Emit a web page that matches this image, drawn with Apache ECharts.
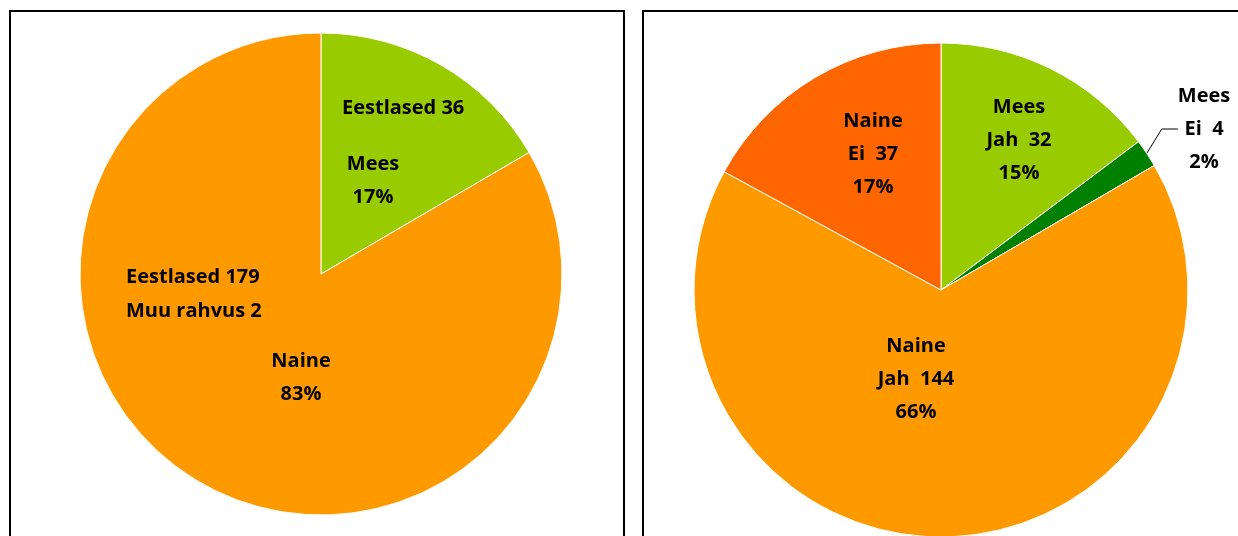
<!DOCTYPE html>
<html>
<head>
<meta charset="utf-8">
<script src="https://cdn.jsdelivr.net/npm/echarts@6/dist/echarts.min.js"></script>
<style>
html,body{margin:0;padding:0;background:#fff;}
#chart{width:1238px;height:536px;}
</style>
</head>
<body>
<div id="chart"></div>
<script>
// ---- data ----
const leftCategories = ['Mees', 'Naine'];
const leftEstonians = [36, 179];
const leftOther = [0, 2];
const leftValues = leftEstonians.map((v, i) => v + leftOther[i]);

const rightGender = ['Mees', 'Mees', 'Naine', 'Naine'];
const rightAnswer = ['Jah', 'Ei', 'Jah', 'Ei'];
const rightValues = [32, 4, 144, 37];

// ---- styles / layout ----
const leftColors = ['#99CC00', '#FF9900'];
const rightColors = ['#99CC00', '#008000', '#FF9900', '#FF6600'];
const leftLabelPos = [[373, 181], [301, 378]];
const rightLabelPos = [[1019, 140], [1204, 129], [916, 379], [873, 154]];
const FONT = '"Open Sans"';
const FS = 20;

const pct = (v, arr) => Math.round(v / arr.reduce((a, b) => a + b, 0) * 100) + '%';

const leftData = leftCategories.map((c, i) => ({
  name: c, value: leftValues[i], itemStyle: { color: leftColors[i] }
}));
const rightData = rightGender.map((g, i) => ({
  name: g + ' ' + rightAnswer[i], value: rightValues[i], itemStyle: { color: rightColors[i] },
  labelLine: { show: i === 1, length: 10, length2: 16, lineStyle: { color: '#000', width: 1 } }
}));

const labelStyle = { color: '#000', fontFamily: FONT, fontWeight: 'bold', fontSize: FS, lineHeight: 33, align: 'center', overflow: 'none' };

const chart = echarts.init(document.getElementById('chart'), null, { renderer: 'canvas' });
chart.setOption({
  animation: false,
  graphic: [
    { type: 'rect', shape: { x: 10, y: 11, width: 614, height: 540 }, style: { fill: 'none', stroke: '#000', lineWidth: 2 }, z: 0 },
    { type: 'rect', shape: { x: 643, y: 11, width: 620, height: 540 }, style: { fill: 'none', stroke: '#000', lineWidth: 2 }, z: 0 },
    { type: 'text', left: 342, top: 98, z: 100,
      style: { text: 'Eestlased ' + leftEstonians[0], fill: '#000', font: 'bold ' + FS + 'px ' + FONT } },
    { type: 'text', left: 126, top: 260, z: 100,
      style: { text: 'Eestlased ' + leftEstonians[1] + '\nMuu rahvus ' + leftOther[1], fill: '#000', font: 'bold ' + FS + 'px ' + FONT, lineHeight: 34 } }
  ],
  series: [
    {
      type: 'pie', center: [321, 274], radius: [0, 241], startAngle: 90, clockwise: true,
      itemStyle: { borderColor: '#fff', borderWidth: 1 },
      label: Object.assign({ show: true, position: 'inside',
        formatter: p => leftCategories[p.dataIndex] + '\n' + pct(leftValues[p.dataIndex], leftValues) }, labelStyle),
      labelLine: { show: false },
      labelLayout: p => ({ x: leftLabelPos[p.dataIndex][0], y: leftLabelPos[p.dataIndex][1], align: 'center', verticalAlign: 'middle' }),
      emphasis: { disabled: true },
      data: leftData
    },
    {
      type: 'pie', center: [941, 290], radius: [0, 247], startAngle: 90, clockwise: true,
      itemStyle: { borderColor: '#fff', borderWidth: 1 },
      label: Object.assign({ show: true, position: 'outside', edgeDistance: 0,
        formatter: p => rightGender[p.dataIndex] + '\n' + rightAnswer[p.dataIndex] + '  ' + rightValues[p.dataIndex] + '\n' + pct(rightValues[p.dataIndex], rightValues) }, labelStyle),
      labelLayout: p => ({ x: rightLabelPos[p.dataIndex][0], y: rightLabelPos[p.dataIndex][1], align: 'center', verticalAlign: 'middle' }),
      emphasis: { disabled: true },
      data: rightData
    }
  ]
});
</script>
</body>
</html>
